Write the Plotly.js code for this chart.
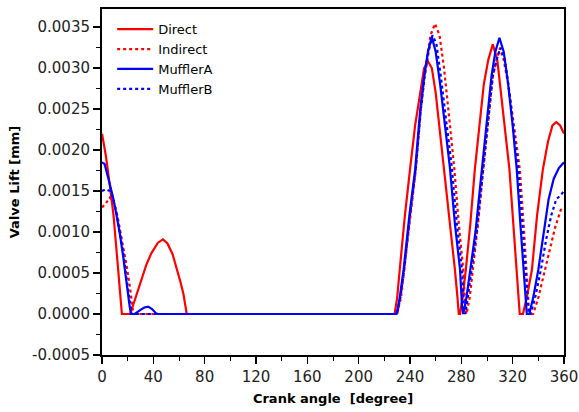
<!DOCTYPE html>
<html>
<head>
<meta charset="utf-8">
<script src="https://cdn.plot.ly/plotly-3.0.1.min.js"></script>
<style>html,body{margin:0;padding:0;background:#fff;}#chart{width:579px;height:412px;}</style>
</head>
<body>
<div id="chart"></div>
<script>
const seriesNames = ['Direct', 'Indirect', 'MufflerA', 'MufflerB'];

const directDeg = [0,3,6,9,12,14,15.5,22,26,30.6,34.5,38.4,43.6,47.5,51,55,58,61,63.5,66,228,230,232,236,240,244,248,251,254,257,260,263.5,267,271,275,277,278,279,281,283.5,287,290.5,294,297.5,301,304.5,308,311,314.5,317.5,320.5,323,324.5,325.5,328,331,335,339,343.5,347.5,351,354,357,360];
const directLift = [0.0022,0.00193,0.00158,0.0012,0.00065,0.0003,0,0,0.00019,0.00041,0.0006,0.00074,0.00087,0.00091,0.00086,0.00073,0.00058,0.0004,0.00024,0,0,0.0002,0.00054,0.0012,0.00176,0.0023,0.0027,0.0030,0.00308,0.0030,0.0027,0.0022,0.00175,0.0011,0.00054,0.0002,0,0,0.0002,0.00054,0.0011,0.00176,0.0023,0.0028,0.0031,0.00329,0.0031,0.0027,0.0022,0.00176,0.0011,0.00054,0.0001,0,0,0.0002,0.00054,0.0012,0.00176,0.0021,0.0023,0.00234,0.0023,0.0022];

const indirectDeg = [0,3,6,9,12,14.5,17,19.5,22,24,25,230,233,235.5,240,244.5,248.5,252,256,259.5,263,266.5,270.5,274.6,278,281.5,283,284,286.5,289.5,293,297,301,304.5,307.5,310,313,316.5,321,325.6,328.5,331,332.5,334,336,340,345,349,353,357.5,360];
const indirectLift = [0.0013,0.00135,0.00142,0.00138,0.0012,0.001,0.0008,0.00056,0.0003,0.00005,0,0,0.0002,0.00054,0.0012,0.00176,0.0025,0.0030,0.0034,0.00354,0.0034,0.0030,0.0024,0.00176,0.0011,0.00054,0.0001,0,0.0002,0.0006,0.0011,0.00176,0.0024,0.0029,0.0031,0.00324,0.0031,0.0028,0.0023,0.00176,0.0011,0.00054,0.0001,0,0,0.0002,0.00054,0.0008,0.00105,0.00127,0.0013];

const mufflerADeg = [0,2,5,8.5,11,14,16.5,19,21.5,22.5,25.5,30,33,36,39,42,43.5,229.5,232,235,239.5,244,248,251,254,257,260,263.5,267,271,275,279,280.5,281.5,284,287.5,291,296,300,303.5,306.5,309.7,313,316.5,320,323.2,326,328.4,330,331,333,336,340,344,348,352,356,360];
const mufflerALift = [0.00185,0.00183,0.00165,0.00143,0.00123,0.00097,0.0007,0.00037,0.0001,0,0,0.00005,0.00008,0.00009,0.00006,0.00001,0,0,0.0002,0.00054,0.0012,0.00176,0.0025,0.0029,0.0032,0.00338,0.0032,0.0028,0.0023,0.0018,0.0011,0.00054,0.0001,0,0.0002,0.0006,0.0010,0.00176,0.0024,0.0029,0.0032,0.00337,0.0032,0.0028,0.0023,0.00176,0.0011,0.00054,0.0001,0,0,0.0002,0.00054,0.001,0.0014,0.00165,0.00178,0.00185];

const mufflerBDeg = [0,3,6,8.5,11,14,16.5,19,21.5,23,230,232.5,235.5,240,244.5,248.5,251.5,254.5,257.5,260.5,264,268,272.5,276.5,280.5,282,283,285,288.5,292,297,301,304.5,307.5,310.5,314,317.5,321,324.5,327.5,330,331.5,332.5,334,337.5,342,346,350,354,357.5,360];
const mufflerBLift = [0.0015,0.00152,0.0015,0.00142,0.00125,0.001,0.00075,0.00045,0.00015,0,0,0.0002,0.00054,0.0012,0.00176,0.0025,0.0029,0.0032,0.0034,0.0033,0.0029,0.0024,0.0018,0.0011,0.00054,0.0001,0,0.0002,0.0006,0.001,0.00176,0.0024,0.0029,0.0031,0.00325,0.0031,0.0027,0.0022,0.00176,0.0011,0.00054,0.0001,0,0,0.0002,0.00054,0.0009,0.0012,0.0014,0.00145,0.0015];

const xTickVals = [0,40,80,120,160,200,240,280,320,360];
const yTickVals = [-0.0005,0,0.0005,0.001,0.0015,0.002,0.0025,0.003,0.0035];
const yTickText = ['-0.0005','0.0000','0.0005','0.0010','0.0015','0.0020','0.0025','0.0030','0.0035'];

const RED = '#ff0000', BLUE = '#0000ff';
const traces = [
  {x: directDeg, y: directLift, name: seriesNames[0], mode: 'lines', line: {color: RED, width: 2.2}},
  {x: indirectDeg, y: indirectLift, name: seriesNames[1], mode: 'lines', line: {color: RED, width: 2.2, dash: 'dot'}},
  {x: mufflerADeg, y: mufflerALift, name: seriesNames[2], mode: 'lines', line: {color: BLUE, width: 2.2}},
  {x: mufflerBDeg, y: mufflerBLift, name: seriesNames[3], mode: 'lines', line: {color: BLUE, width: 2.2, dash: 'dot'}}
];

const layout = {
  width: 579, height: 412,
  margin: {l: 102, r: 15, t: 9, b: 57},
  paper_bgcolor: '#fff', plot_bgcolor: '#fff',
  font: {family: 'DejaVu Sans', color: '#000'},
  showlegend: true,
  legend: {x: 0.022, y: 0.985, xanchor: 'left', yanchor: 'top', itemwidth: 36, bgcolor: 'rgba(0,0,0,0)', font: {size: 13, family: 'DejaVu Sans', color: '#000'}},
  xaxis: {
    range: [0, 360], tickmode: 'array', tickvals: xTickVals, ticktext: xTickVals.map(String),
    ticks: 'outside', ticklen: 7, tickwidth: 1.5, tickcolor: '#000',
    showline: true, linewidth: 2, linecolor: '#000', mirror: true,
    showgrid: false, zeroline: false,
    tickfont: {size: 15, family: 'DejaVu Sans', color: '#222'},
    minor: {tickmode: 'linear', tick0: 0, dtick: 20, ticks: 'outside', ticklen: 4, tickwidth: 1, tickcolor: '#000', showgrid: false},
    title: {text: '<b>Crank angle  [degree]</b>', font: {size: 13, family: 'DejaVu Sans', color: '#000'}, standoff: 9}
  },
  yaxis: {
    range: [-0.0005, 0.00372], tickmode: 'array', tickvals: yTickVals, ticktext: yTickText,
    ticks: 'outside', ticklen: 7, tickwidth: 1.5, tickcolor: '#000',
    showline: true, linewidth: 2, linecolor: '#000', mirror: true,
    showgrid: false, zeroline: false,
    tickfont: {size: 15, family: 'DejaVu Sans', color: '#222'},
    minor: {tickmode: 'linear', tick0: 0, dtick: 0.00025, ticks: 'outside', ticklen: 4, tickwidth: 1, tickcolor: '#000', showgrid: false},
    title: {text: '<b>Valve Lift [mm]</b>', font: {size: 13, family: 'DejaVu Sans', color: '#000'}, standoff: 10}
  }
};

Plotly.newPlot('chart', traces, layout, {displayModeBar: false, staticPlot: true});
</script>
</body>
</html>
